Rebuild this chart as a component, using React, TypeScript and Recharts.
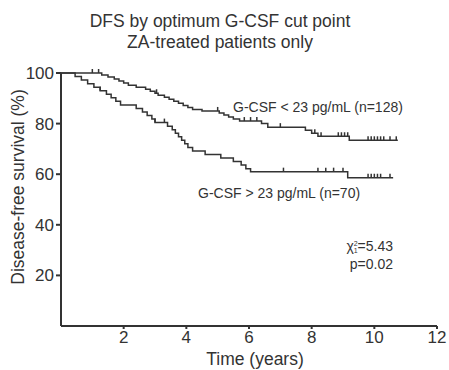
import { ComposedChart, Line, Scatter, XAxis, YAxis } from "recharts";

// Kaplan-Meier step points: [time (years), survival (%)]
const lowGcsf = [
  [0, 100], [1.3, 99.2], [1.5, 98.4], [1.7, 97.6], [1.85, 96.8], [2.0, 96.0],
  [2.15, 95.2], [2.4, 94.4], [2.7, 93.6], [2.85, 92.8], [3.0, 92.0], [3.1, 91.2],
  [3.3, 90.4], [3.45, 89.6], [3.6, 88.8], [3.75, 88.0], [3.9, 87.2], [4.05, 86.4],
  [4.2, 85.6], [4.5, 85.0], [5.05, 84.2], [5.2, 83.4], [5.35, 82.6], [5.5, 81.8],
  [5.7, 81.0], [6.4, 80.0], [6.6, 78.6], [7.8, 77.4], [8.0, 76.2], [8.2, 75.0],
  [9.2, 73.4], [10.75, 73.4],
];

const highGcsf = [
  [0, 100], [0.45, 98.6], [0.65, 97.2], [0.85, 95.8], [1.05, 94.4], [1.25, 93.0],
  [1.45, 91.6], [1.6, 90.2], [1.75, 88.8], [1.9, 87.4], [2.4, 86.0], [2.6, 84.6],
  [2.75, 83.2], [2.9, 81.8], [3.0, 80.4], [3.4, 79.0], [3.55, 77.6], [3.65, 76.2],
  [3.75, 74.8], [3.85, 73.4], [3.95, 72.0], [4.05, 70.6], [4.2, 69.2], [4.6, 67.8],
  [5.1, 66.4], [5.5, 65.0], [5.75, 63.6], [5.9, 62.2], [6.05, 61.0], [9.15, 58.6],
  [10.6, 58.6],
];

// censored observations
const lowCensored = [
  [1.0, 100], [1.2, 100], [3.05, 92.0], [5.0, 85.0], [5.85, 81.0], [6.05, 81.0],
  [6.25, 81.0], [7.0, 78.6], [8.1, 76.2], [8.3, 75.0], [8.85, 75.0], [8.95, 75.0],
  [9.05, 75.0], [9.15, 75.0], [9.8, 73.4], [9.9, 73.4], [10.0, 73.4], [10.1, 73.4],
  [10.2, 73.4], [10.3, 73.4], [10.5, 73.4], [10.7, 73.4],
];

const highCensored = [
  [1.25, 93.0], [3.0, 80.4], [3.3, 80.4], [7.1, 61.0], [8.2, 61.0], [8.45, 61.0],
  [8.7, 61.0], [9.0, 61.0], [9.8, 58.6], [9.9, 58.6], [10.0, 58.6], [10.1, 58.6],
  [10.2, 58.6], [10.5, 58.6],
];

const xTicks = [2, 4, 6, 8, 10, 12];
const yTicks = [20, 40, 60, 80, 100];

const toRows = (pts: number[][]) => pts.map(([t, s]) => ({ t, s }));

const ink = "#333";
const font = "'Liberation Sans', Arial, sans-serif";

const CensorMark = (props: any) => {
  const { cx, cy } = props;
  if (cx == null || cy == null) return null;
  return <line x1={cx} x2={cx} y1={cy - 4} y2={cy} stroke={ink} strokeWidth={1.5} />;
};

export default function App() {
  return (
    <div style={{ position: "absolute", left: 0, top: 0, width: 449, height: 370, background: "#fff" }}>
      <ComposedChart
        width={449}
        height={370}
        margin={{ top: 73, right: 12, left: 0, bottom: 0 }}
      >
        <XAxis
          type="number"
          dataKey="t"
          domain={[0, 12]}
          ticks={xTicks}
          height={44}
          stroke={ink}
          strokeWidth={2}
          tickSize={3}
          tickMargin={2}
          tick={{ fill: ink, fontSize: 17, fontFamily: font }}
          allowDuplicatedCategory={false}
        />
        <YAxis
          type="number"
          dataKey="s"
          domain={[0, 100]}
          ticks={yTicks}
          width={61}
          stroke={ink}
          strokeWidth={2}
          tickSize={5}
          tickMargin={2}
          tick={{ fill: ink, fontSize: 17, fontFamily: font }}
        />
        <Line
          data={toRows(lowGcsf)}
          dataKey="s"
          type="stepAfter"
          stroke={ink}
          strokeWidth={1.5}
          dot={false}
          isAnimationActive={false}
        />
        <Line
          data={toRows(highGcsf)}
          dataKey="s"
          type="stepAfter"
          stroke={ink}
          strokeWidth={1.5}
          dot={false}
          isAnimationActive={false}
        />
        <Scatter data={toRows(lowCensored)} dataKey="s" shape={CensorMark} isAnimationActive={false} />
        <Scatter data={toRows(highCensored)} dataKey="s" shape={CensorMark} isAnimationActive={false} />
      </ComposedChart>

      {/* titles and annotations */}
      <svg
        width={449}
        height={370}
        style={{ position: "absolute", left: 0, top: 0, pointerEvents: "none" }}
        fontFamily={font}
        fill={ink}
      >
        <text x={220} y={27} fontSize={17.5} textAnchor="middle">DFS by optimum G-CSF cut point</text>
        <text x={220} y={48} fontSize={17.5} textAnchor="middle">ZA-treated patients only</text>
        <text x={255} y={365} fontSize={17.5} textAnchor="middle">Time (years)</text>
        <text
          x={24}
          y={187}
          fontSize={17.5}
          textAnchor="middle"
          transform="rotate(-90 24 187)"
        >
          Disease-free survival (%)
        </text>
        <text x={233} y={112} fontSize={14}>G-CSF &lt; 23 pg/mL (n=128)</text>
        <text x={198} y={198} fontSize={14}>G-CSF &gt; 23 pg/mL (n=70)</text>
        <text x={393} y={251} fontSize={14} textAnchor="end">
          χ<tspan fontSize={7} dy={-5}>2</tspan>
          <tspan fontSize={7} dx={-4} dy={7}>1</tspan>
          <tspan dy={-2}>=5.43</tspan>
        </text>
        <text x={393} y={269} fontSize={14} textAnchor="end">p=0.02</text>
      </svg>
    </div>
  );
}
